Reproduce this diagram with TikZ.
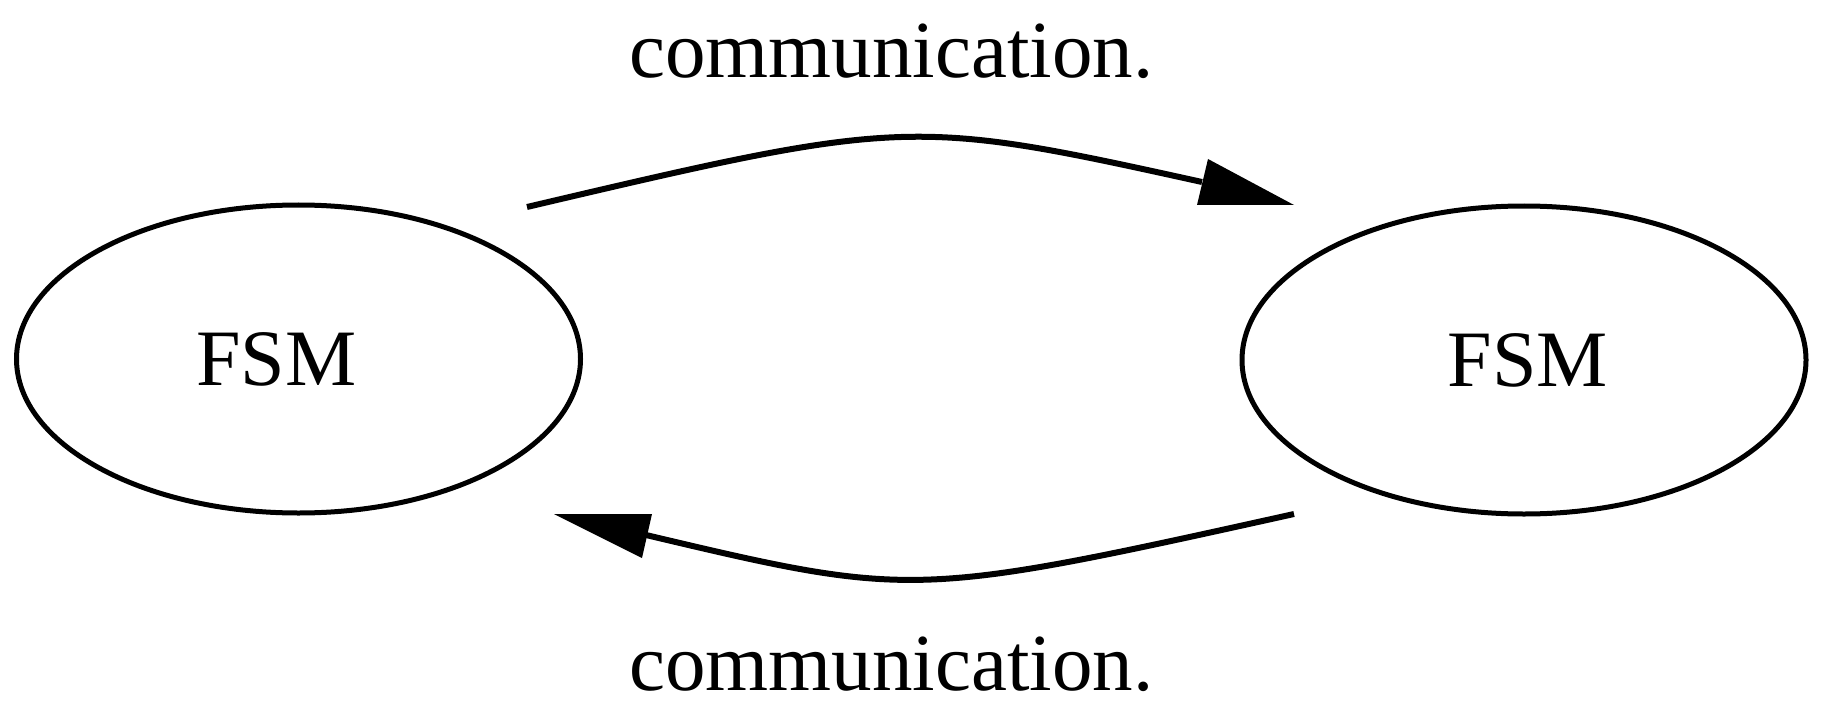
\documentclass[tikz,border=0pt]{standalone}
\usepackage{fontspec}
\setmainfont{Liberation Serif}
\usetikzlibrary{shapes.geometric}
\tikzset{
  state/.style={ellipse, draw, line width=5pt, inner sep=0pt,
    minimum width=564pt, minimum height=308pt},
  statetext/.style={font=\fontsize{80}{96}\selectfont},
  edge/.style={line width=6pt},
  head/.style={fill=black, draw=none},
  elabel/.style={font=\fontsize{81}{97}\selectfont, anchor=base}
}
\begin{document}
\begin{tikzpicture}[x=1pt, y=-1pt]
\useasboundingbox (0,0) rectangle (1822,722);
% nodes
\node[state, label={[statetext, xshift=-22pt]center:FSM}] (L) at (298.5,359) {};
\node[state, label={[statetext, xshift=4pt]center:FSM}] (R) at (1524,360) {};
% top edge L -> R
\coordinate (t0) at (527,207);
\coordinate (t1) at (1202,182);
\draw[edge] (t0) .. controls (905,118) and (912,118) .. (t1);
\fill[head] (1208,159) -- (1197,205) -- (1294,205) -- cycle;
\node[elabel] (topl) at (891.5,78) {communication.};
% bottom edge R -> L
\coordinate (b0) at (1294,514);
\coordinate (b1) at (646,535);
\draw[edge] (b0) .. controls (915,598) and (912,598) .. (b1);
\fill[head] (554,514) -- (652,514) -- (642,558) -- cycle;
\node[elabel] (botl) at (891.5,690) {communication.};
\end{tikzpicture}
\end{document}
